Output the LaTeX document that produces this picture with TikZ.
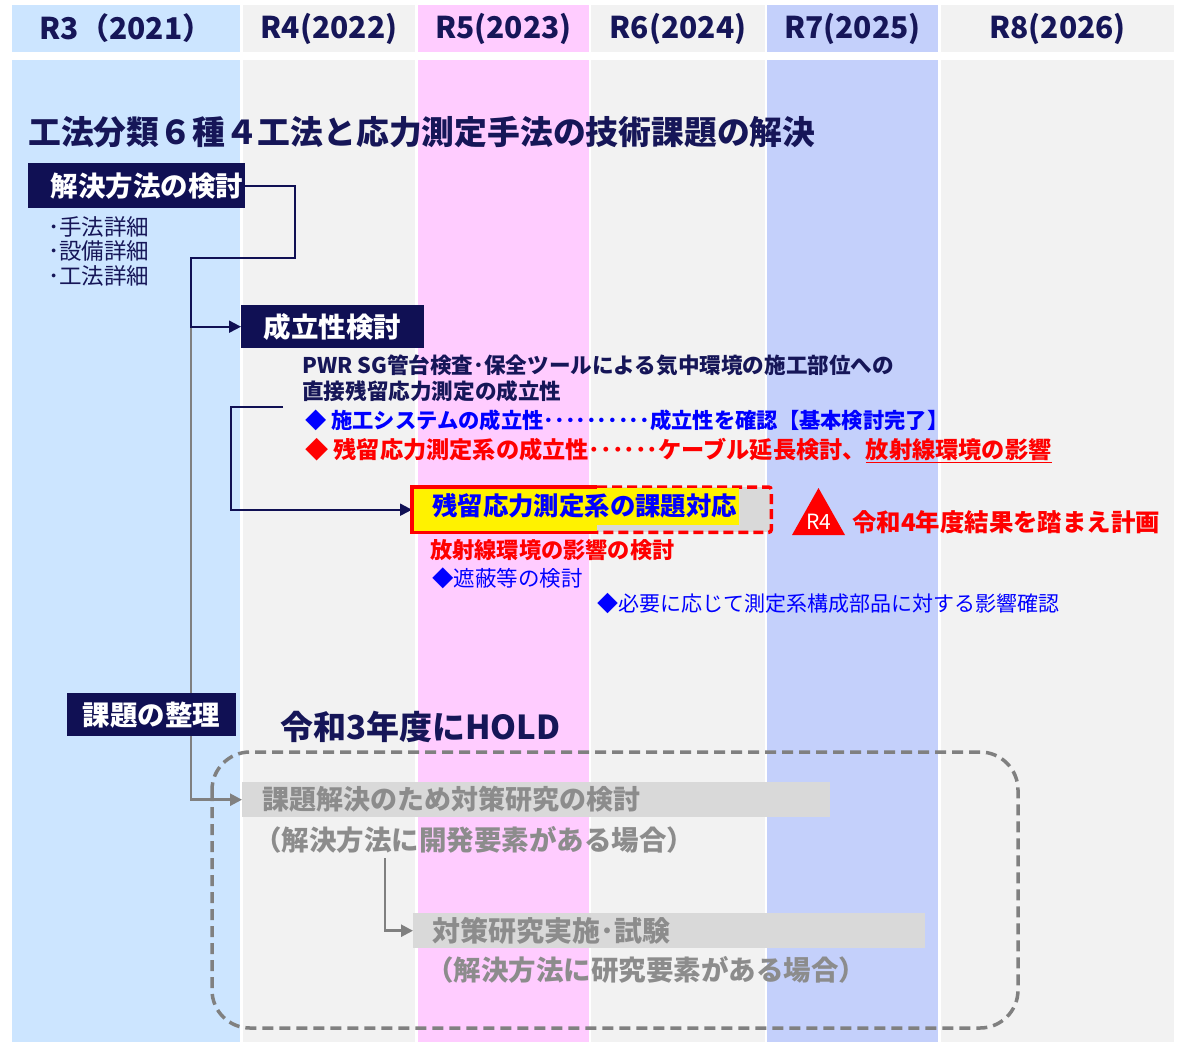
\documentclass[tikz,border=0pt]{standalone}
\usepackage{fontspec}
\setmainfont{Noto Sans CJK JP}
\usetikzlibrary{positioning, arrows.meta}
\definecolor{NavyBox}{RGB}{16, 16, 84}
\definecolor{NavyText}{RGB}{22, 22, 88}
\definecolor{ColRthree}{RGB}{204, 229, 255}
\definecolor{ColGray}{RGB}{242, 242, 242}
\definecolor{ColRfive}{RGB}{255, 204, 255}
\definecolor{ColRseven}{RGB}{196, 208, 251}
\definecolor{HoldGray}{RGB}{128, 128, 128}
\definecolor{HoldFill}{RGB}{217, 217, 217}
\definecolor{HoldText}{RGB}{140, 140, 140}
\newcommand{\jpsz}[2]{\fontsize{#1}{#2}\selectfont}
\pgfdeclarelayer{back}
\pgfdeclarelayer{links}
\pgfsetlayers{back,links,main}

\begin{document}
\begin{tikzpicture}[x=1pt, y=-1pt,
    hdr/.style={minimum height=47, inner sep=0, text=NavyText, font=\bfseries\jpsz{30}{30}},
    navybox/.style={fill=NavyBox, text=white, inner sep=0, font=\bfseries\jpsz{27.5}{27.5}},
    plain/.style={anchor=west, inner sep=0},
    holdbox/.style={fill=HoldFill, text=HoldText, anchor=north west, align=left, inner ysep=0, minimum height=35, font=\bfseries\jpsz{27}{27}},
    navyarrow/.style={draw=NavyBox, line width=2, -{Triangle[length=12pt, width=12pt]}},
    grayarrow/.style={draw=HoldGray, line width=2.5, -{Triangle[length=12pt, width=12pt]}}]
    \useasboundingbox (0,0) rectangle (1177,1042);

    % Year columns
    \begin{pgfonlayer}{back}
    \fill[ColRthree] (12,60) rectangle (240,1042);
    \fill[ColGray] (243,60) rectangle (415,1042);
    \fill[ColRfive] (418,60) rectangle (589,1042);
    \fill[ColGray] (591,60) rectangle (765,1042);
    \fill[ColRseven] (767,60) rectangle (938,1042);
    \fill[ColGray] (941,60) rectangle (1174,1042);
    \end{pgfonlayer}

    % Header row
    \node[hdr, fill=ColRthree, minimum width=228] (hRthree) at (126,28.5) {R3（2021）};
    \node[hdr, fill=ColGray, minimum width=172] (hRfour) at (329,28.5) {R4(2022)};
    \node[hdr, fill=ColRfive, minimum width=171] (hRfive) at (503.5,28.5) {R5(2023)};
    \node[hdr, fill=ColGray, minimum width=174] (hRsix) at (678,28.5) {R6(2024)};
    \node[hdr, fill=ColRseven, minimum width=171] (hRseven) at (852.5,28.5) {R7(2025)};
    \node[hdr, fill=ColGray, minimum width=233] (hReight) at (1057.5,28.5) {R8(2026)};

    % Title
    \node[plain, text=NavyText, font=\bfseries\jpsz{32.8}{32.8}] (title) at (28,132) {工法分類６種４工法と応力測定手法の技術課題の解決};

    % Study of solutions
    \node[navybox, minimum width=217, minimum height=45, text width=213, align=right, anchor=north west] (kentou) at (28,163) {解決方法の検討};
    \node[anchor=north west, inner sep=0, align=left, text=NavyText, font=\jpsz{22.5}{24.5}] (details) at (48,216) {･手法詳細\\･設備詳細\\･工法詳細};

    % Feasibility study
    \node[navybox, minimum width=183, minimum height=43, anchor=north west] (seiritsu) at (241,305) {成立性検討};
    \node[anchor=north west, inner sep=0, align=left, text=NavyText, font=\bfseries\jpsz{21.6}{26}] (pwr) at (302,355) {PWR SG管台検査･保全ツールによる気中環境の施工部位への\\直接残留応力測定の成立性};
    \node[plain, text=blue, font=\bfseries\jpsz{21.3}{22}] (sekou) at (305,420) {◆ 施工システムの成立性･･････････成立性を確認【基本検討完了】};
    \node[plain, text=red, font=\bfseries\jpsz{23.2}{23}] (sokutei) at (305,450) {◆ 残留応力測定系の成立性･･････ケーブル延長検討、\underline{放射線環境の影響}};
    \coordinate (pwrend) at (283,407);

    % Measurement system issues
    \node[fill=HoldFill, minimum width=174, minimum height=45, anchor=north west, inner sep=0] (kadaiext) at (597,487) {};
    \draw[red, line width=3.5, dash pattern=on 10 off 5, rounded corners=3] (kadaiext.north west) -- (kadaiext.north east) -- (kadaiext.south east) -- (kadaiext.south west);
    \node[fill=yellow, minimum width=185, minimum height=45, anchor=north west, inner sep=0] (kadai) at (412,487) {};
    \node[plain, fill=yellow, inner xsep=2, minimum height=37, text=blue, font=\bfseries\jpsz{25.4}{25.4}] (kadaitxt) at (430,506) {残留応力測定系の課題対応};
    \draw[red, line width=3.5] (kadaiext.north west) -- (kadai.north west) -- (kadai.south west) -- (kadaiext.south west);

    \fill[red] (792,535) -- (818.5,488) -- (845,535) -- cycle;
    \node[inner sep=0, text=white, font=\jpsz{21}{21}] (rfour) at (818.5,522) {R4};
    \node[plain, text=red, font=\bfseries\jpsz{24.4}{24.4}] (keikaku) at (852,522) {令和4年度結果を踏まえ計画};

    \node[plain, text=red, font=\bfseries\jpsz{22.2}{22}] (houshasen) at (430,550) {放射線環境の影響の検討};
    \node[plain, text=blue, font=\jpsz{21.5}{21}] (shahei) at (432,578) {◆遮蔽等の検討};
    \node[plain, text=blue, font=\jpsz{21}{21}] (eikyou) at (597,604) {◆必要に応じて測定系構成部品に対する影響確認};

    % Sorting out the issues
    \node[navybox, minimum width=169, minimum height=43, anchor=north west] (seiri) at (67,693) {課題の整理};
    \node[plain, text=NavyText, font=\bfseries\jpsz{33}{33}] (hold) at (280,727) {令和3年度にHOLD};
    \draw[HoldGray, line width=3.5, dash pattern=on 11 off 6, rounded corners=38] (212,752) rectangle (1018,1028);

    \node[holdbox, text width=548, inner xsep=20] (taisaku) at (242,782) {課題解決のため対策研究の検討};
    \node[plain, text=HoldText, font=\bfseries\jpsz{27.5}{27}] (kaihatsu) at (254,840) {（解決方法に開発要素がある場合）};
    \node[holdbox, text width=474, inner xsep=19, font=\bfseries\jpsz{28}{28}] (jisshi) at (413,913) {対策研究実施･試験};
    \node[plain, text=HoldText, font=\bfseries\jpsz{27.5}{27}] (kenkyuu) at (426,970) {（解決方法に研究要素がある場合）};
    \coordinate (bend) at (191,258);
    \coordinate (turn) at (295,258);
    \coordinate (drop) at (385,858);

    % Connectors
    \begin{pgfonlayer}{links}
    \draw[grayarrow] (bend) |- (taisaku.west);
    \draw[navyarrow] (kentou.east) -| (turn) -- (bend) |- (seiritsu.west);
    \draw[navyarrow] (pwrend) -- ++(-52,0) |- (kadai.west);
    \draw[grayarrow] (drop) |- (jisshi.west);
    \end{pgfonlayer}
\end{tikzpicture}
\end{document}
